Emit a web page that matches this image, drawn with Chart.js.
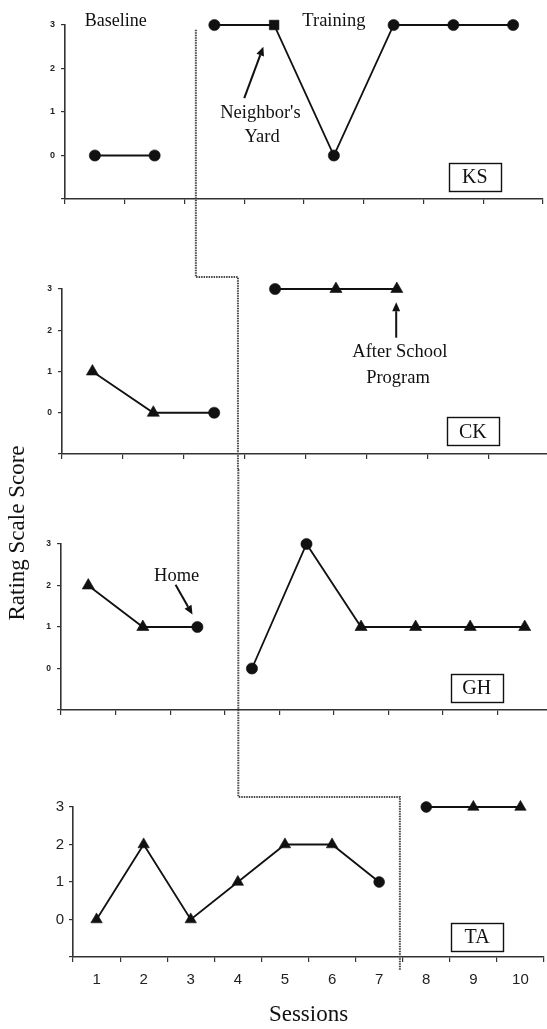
<!DOCTYPE html>
<html><head><meta charset="utf-8">
<script src="https://cdn.jsdelivr.net/npm/chart.js@4.4.0/dist/chart.umd.min.js"></script>
<style>
html,body{margin:0;padding:0;width:547px;height:1029px;overflow:hidden;background:#fff;}
canvas.pan{position:absolute;left:0;}
#ov{position:absolute;left:0;top:0;pointer-events:none;}
</style></head><body>
<canvas class="pan" id="c1"></canvas>
<canvas class="pan" id="c2"></canvas>
<canvas class="pan" id="c3"></canvas>
<canvas class="pan" id="c4"></canvas>
<canvas id="ov" width="547" height="1029"></canvas>
<script>
// ---------- DATA ----------
const ksSessions = ['1','2','3','4','5','6','7','8'];
const ksBaseline = [0, 0, null, null, null, null, null, null];
const ksTraining = [null, null, 3, 3, 0, 3, 3, 3];
const ksMarkers  = ['circle','circle','circle','rect','circle','circle','circle','circle'];

const ckSessions = ['1','2','3','4','5','6','7','8'];
const ckBaseline = [1, 0, 0, null, null, null, null, null];
const ckTraining = [null, null, null, 3, 3, 3, null, null];
const ckMarkers  = ['triangle','triangle','circle','circle','triangle','triangle','circle','circle'];

const ghSessions = ['1','2','3','4','5','6','7','8','9'];
const ghBaseline = [2, 1, 1, null, null, null, null, null, null];
const ghTraining = [null, null, null, 0, 3, 1, 1, 1, 1];
const ghMarkers  = ['triangle','triangle','circle','circle','circle','triangle','triangle','triangle','triangle'];

const taSessions = ['1','2','3','4','5','6','7','8','9','10'];
const taBaseline = [0, 2, 0, 1, 2, 2, 1, null, null, null];
const taTraining = [null, null, null, null, null, null, null, 3, 3, 3];
const taMarkers  = ['triangle','triangle','triangle','triangle','triangle','triangle','circle','circle','triangle','triangle'];

const yTickValues = [-1, 0, 1, 2, 3];
const participants = ['KS','CK','GH','TA'];
// phase-change position (session units) for each participant
const phaseChange = [2.69, 3.39, 3.75, 7.44];

const SERIF = '"Liberation Serif","Times New Roman",serif';
const SANS = '"Liberation Sans",Arial,sans-serif';

function drawArrow(ctx, x1, y1, x2, y2) {
  const a = Math.atan2(y2 - y1, x2 - x1), h = 9, w = 4;
  const bx = x2 - Math.cos(a) * h, by = y2 - Math.sin(a) * h;
  ctx.save();
  ctx.strokeStyle = '#111'; ctx.fillStyle = '#111'; ctx.lineWidth = 2;
  ctx.beginPath(); ctx.moveTo(x1, y1); ctx.lineTo(bx, by); ctx.stroke();
  ctx.beginPath();
  ctx.moveTo(x2, y2);
  ctx.lineTo(bx + Math.sin(a) * w, by - Math.cos(a) * w);
  ctx.lineTo(bx - Math.sin(a) * w, by + Math.cos(a) * w);
  ctx.closePath(); ctx.fill();
  ctx.restore();
}

function makePanel(id, o) {
  const cv = document.getElementById(id);
  cv.width = 560; cv.height = o.h;
  cv.style.top = o.top + 'px';
  const markers = o.markers;
  const rad = ctx => markers[ctx.dataIndex] === 'triangle' ? o.tri : (markers[ctx.dataIndex] === 'rect' ? 6.8 : o.circ);
  const ds = data => ({
    data, borderColor: '#111', borderWidth: 1.8, tension: 0, spanGaps: false, clip: false,
    pointStyle: ctx => markers[ctx.dataIndex], pointRadius: rad, pointHoverRadius: rad,
    pointBackgroundColor: '#111', pointBorderColor: '#111', pointBorderWidth: 0.6
  });
  const annot = {
    id: 'annot' + id,
    afterDraw(chart) {
      const ctx = chart.ctx, X = s => chart.scales.x.getPixelForValue(s - 1), Y = v => chart.scales.y.getPixelForValue(v);
      (o.notes || []).forEach(n => {
        if (n.kind === 'text') {
          ctx.save(); ctx.font = (n.size || 18) + 'px ' + SERIF; ctx.fillStyle = '#111';
          ctx.textAlign = 'center'; ctx.textBaseline = 'middle';
          ctx.fillText(n.text, X(n.s), Y(n.v)); ctx.restore();
        } else if (n.kind === 'arrow') {
          drawArrow(ctx, X(n.s1), Y(n.v1), X(n.s2), Y(n.v2));
        } else if (n.kind === 'box') {
          const cx = X(n.s), cy = Y(n.v);
          ctx.save(); ctx.strokeStyle = '#111'; ctx.lineWidth = 1.4;
          ctx.strokeRect(Math.round(cx - 26) + 0.5, Math.round(cy - 14) + 0.5, 52, 28);
          ctx.font = '20px ' + SERIF; ctx.fillStyle = '#111'; ctx.textAlign = 'center'; ctx.textBaseline = 'middle';
          ctx.fillText(n.text, cx, cy + 1); ctx.restore();
        }
      });
    }
  };
  return new Chart(cv, {
    type: 'line',
    data: { labels: o.labels, datasets: [ds(o.baseline), ds(o.training)] },
    options: {
      responsive: false, animation: false, events: [],
      layout: { padding: { top: o.padTop, bottom: o.padBottom, left: 0, right: 560 - o.right } },
      plugins: { legend: { display: false }, tooltip: { enabled: false } },
      scales: {
        x: {
          type: 'category', offset: true,
          grid: { offset: true, drawOnChartArea: false, drawTicks: true, tickLength: 5, color: '#333', lineWidth: 1.2 },
          border: { display: true, color: '#333', width: 1.6 },
          ticks: { display: o.xLabels, color: '#222', padding: 9, font: { family: SANS, size: 15 }, maxRotation: 0, autoSkip: false },
          title: { display: o.xLabels, text: 'Sessions', color: '#111', font: { family: SERIF, size: 23 }, padding: { top: 14, bottom: 0 } },
          afterFit: s => { s.height = o.xh; }
        },
        y: {
          min: -1, max: 3,
          afterBuildTicks: s => { s.ticks = yTickValues.map(v => ({ value: v })); },
          ticks: { color: '#222', padding: o.yPad, callback: v => v < 0 ? '' : String(v),
                   font: { family: SANS, size: o.yFont, weight: o.yBold ? 'bold' : 'normal' } },
          grid: { drawOnChartArea: false, drawTicks: true, tickLength: 4, color: '#333', lineWidth: 1.2 },
          border: { display: true, color: '#333', width: 1.6 },
          afterFit: s => { s.width = o.left; }
        }
      }
    },
    plugins: [annot]
  });
}

const c1 = makePanel('c1', {
  top: 0, h: 215, padTop: 25, padBottom: 8, xh: 8, left: 65, right: 543,
  labels: ksSessions, baseline: ksBaseline, training: ksTraining, markers: ksMarkers,
  tri: 7, circ: 5.6, xLabels: false, yFont: 9, yBold: true, yPad: 6,
  notes: [
    { kind: 'text', text: 'Baseline', s: 1.35, v: 3.09, size: 18 },
    { kind: 'text', text: 'Training', s: 5.0, v: 3.09, size: 18.5 },
    { kind: 'text', text: "Neighbor's", s: 3.77, v: 0.98, size: 18.5 },
    { kind: 'text', text: 'Yard', s: 3.80, v: 0.43, size: 18.5 },
    { kind: 'arrow', s1: 3.50, v1: 1.32, s2: 3.82, v2: 2.50 },
    { kind: 'box', text: participants[0], s: 7.36, v: -0.49 }
  ]
});
const c2 = makePanel('c2', {
  top: 215, h: 255, padTop: 74, padBottom: 8, xh: 8, left: 62, right: 549,
  labels: ckSessions, baseline: ckBaseline, training: ckTraining, markers: ckMarkers,
  tri: 7, circ: 5.6, xLabels: false, yFont: 8.5, yBold: true, yPad: 6,
  notes: [
    { kind: 'text', text: 'After School', s: 6.05, v: 1.46, size: 18.5 },
    { kind: 'text', text: 'Program', s: 6.02, v: 0.83, size: 18.5 },
    { kind: 'arrow', s1: 5.99, v1: 1.82, s2: 5.99, v2: 2.68 },
    { kind: 'box', text: participants[1], s: 7.25, v: -0.45 }
  ]
});
const c3 = makePanel('c3', {
  top: 470, h: 255, padTop: 74, padBottom: 7, xh: 8, left: 61, right: 552,
  labels: ghSessions, baseline: ghBaseline, training: ghTraining, markers: ghMarkers,
  tri: 7, circ: 5.6, xLabels: false, yFont: 8.5, yBold: true, yPad: 6,
  notes: [
    { kind: 'text', text: 'Home', s: 2.62, v: 2.23, size: 18.5 },
    { kind: 'arrow', s1: 2.60, v1: 2.02, s2: 2.91, v2: 1.30 },
    { kind: 'box', text: participants[2], s: 8.12, v: -0.47 }
  ]
});
const c4 = makePanel('c4', {
  top: 725, h: 304, padTop: 82, padBottom: 0, xh: 72, left: 73, right: 544,
  labels: taSessions, baseline: taBaseline, training: taTraining, markers: taMarkers,
  tri: 6.6, circ: 5.4, xLabels: true, yFont: 15, yBold: false, yPad: 5,
  notes: [
    { kind: 'box', text: participants[3], s: 9.08, v: -0.47 }
  ]
});

// ---------- overlay: phase-change line and y title ----------
(function () {
  const ov = document.getElementById('ov').getContext('2d');
  const charts = [[c1, 0], [c2, 215], [c3, 470], [c4, 725]];
  const PX = (i, s) => charts[i][0].scales.x.getPixelForValue(s - 1);
  const PY = (i, v) => charts[i][0].scales.y.getPixelForValue(v) + charts[i][1];
  const x1 = PX(0, phaseChange[0]), x2 = PX(1, phaseChange[1]), x3 = PX(2, phaseChange[2]), x4 = PX(3, phaseChange[3]);
  const yTop = PY(0, 2.89), yStep1 = PY(1, 3.29), yMid = 470, yStep2 = PY(3, 3.27), yEnd = PY(3, -1.35);
  ov.save();
  ov.strokeStyle = '#444'; ov.lineWidth = 2; ov.setLineDash([1.5, 1]);
  ov.beginPath();
  ov.moveTo(x1, yTop); ov.lineTo(x1, yStep1); ov.lineTo(x2, yStep1);
  ov.lineTo(x2, yMid); ov.lineTo(x3, yMid); ov.lineTo(x3, yStep2);
  ov.lineTo(x4, yStep2); ov.lineTo(x4, yEnd);
  ov.stroke();
  ov.restore();
  ov.save();
  ov.translate(18, 533); ov.rotate(-Math.PI / 2);
  ov.font = '23px ' + SERIF; ov.fillStyle = '#111'; ov.textAlign = 'center'; ov.textBaseline = 'middle';
  ov.fillText('Rating Scale Score', 0, 0);
  ov.restore();
})();
</script>
</body></html>
